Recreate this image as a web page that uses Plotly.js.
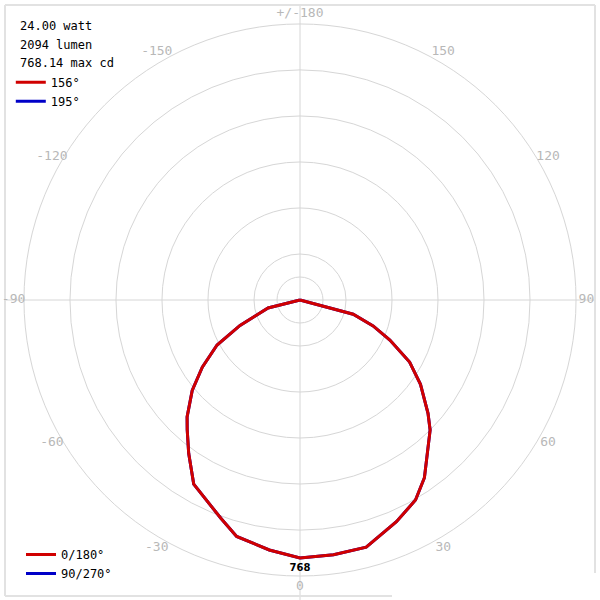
<!DOCTYPE html>
<html>
<head>
<meta charset="utf-8">
<script src="https://cdn.plot.ly/plotly-3.0.1.min.js"></script>
<style>
  html, body { margin: 0; padding: 0; background: #fff; }
  #chart { width: 600px; height: 600px; }
</style>
</head>
<body>
<div id="chart"></div>
<script>
// ── Photometric data (candela) ────────────────────────────────────────────────
const WATT = '24.00';
const LUMEN = '2094';
const MAX_CD = 768.14;

// 0/180° plane: positive angles = 0° half, negative = 180° half
const PLANE_0_THETA = [-180, -90, -80, -76, -67, -61.5, -55.5, -50, -44, -41, -36, -30, -20, -15, -7,
                       0, 7.5, 15, 23.5, 30, 35, 45, 48.5, 55, 60.5, 66, 70.5, 75, 80, 90, 180];
const PLANE_0_CD    = [0, 0, 0, 98, 194, 281, 353, 419, 484, 512, 564, 633, 691, 729, 750,
                       768, 765, 762, 720, 688, 646, 548, 509, 438, 375, 293, 231, 164, 0, 0, 0];

// 90/270° plane sits under the red one in the picture
const PLANE_90_THETA = PLANE_0_THETA;
const PLANE_90_CD    = PLANE_0_CD;

const BEAM_LABELS = ['156°', '195°'];
const PLANE_LABELS = ['0/180°', '90/270°'];

const ANGLE_TICKS  = [0, 30, 60, 90, 120, 150, 180, 210, 240, 270, 300, 330];
const ANGLE_LABELS = ['0', '30', '60', '90', '120', '150', '+/-180', '-150', '-120', '-90', '-60', '-30'];
const RING_VALUES  = [68.5, 137, 274, 411, 548, 685, 822];
const LABEL_R = 853;   // angle labels sit just outside the last ring
const AXIS_MAX = 860;

const RED = '#d00000', BLUE = '#0000c8', GRID = '#d6d6d6';
const MONO = 'DejaVu Sans Mono';

// ── Traces ────────────────────────────────────────────────────────────────────
const traces = [
  // beam angle keys (top-left legend)
  { type: 'scatterpolar', r: [null], theta: [null], mode: 'lines', name: BEAM_LABELS[0],
    line: { color: RED, width: 3 }, legend: 'legend' },
  { type: 'scatterpolar', r: [null], theta: [null], mode: 'lines', name: BEAM_LABELS[1],
    line: { color: BLUE, width: 3 }, legend: 'legend' },
  // planes (bottom-left legend)
  { type: 'scatterpolar', r: PLANE_90_CD, theta: PLANE_90_THETA, mode: 'lines', name: PLANE_LABELS[1],
    line: { color: BLUE, width: 3 }, legend: 'legend2', legendrank: 2 },
  { type: 'scatterpolar', r: PLANE_0_CD, theta: PLANE_0_THETA, mode: 'lines', name: PLANE_LABELS[0],
    line: { color: RED, width: 3 }, legend: 'legend2', legendrank: 1 },
  // max value label
  { type: 'scatterpolar', r: [Math.round(MAX_CD)], theta: [0], mode: 'markers+text',
    marker: { size: 8, color: 'rgba(0,0,0,0)' },
    text: [String(Math.round(MAX_CD))], textposition: 'bottom center',
    textfont: { family: 'DejaVu Sans', size: 10, color: '#000', weight: 'bold' },
    showlegend: false, hoverinfo: 'skip' },
  // angle labels sitting on the outer ring
  { type: 'scatterpolar', r: ANGLE_TICKS.map(() => LABEL_R), theta: ANGLE_TICKS,
    mode: 'text', text: ANGLE_LABELS, textposition: 'middle center', cliponaxis: false,
    textfont: { family: MONO, size: 13, color: '#b8b8b8' },
    showlegend: false, hoverinfo: 'skip' },
];

const layout = {
  width: 600, height: 600,
  margin: { t: 0, r: 0, b: 0, l: 0 },
  paper_bgcolor: '#fff',
  font: { family: MONO, size: 12, color: '#000' },
  polar: {
    // last ring (822) lands at 276 px from the centre
    domain: { x: [0.0187, 0.9813], y: [0.0187, 0.9813] },
    bgcolor: 'rgba(0,0,0,0)',
    angularaxis: {
      rotation: -90, direction: 'counterclockwise',
      showticklabels: false, ticks: '', showgrid: false, showline: false,
    },
    radialaxis: {
      range: [0, AXIS_MAX],
      tickmode: 'array', tickvals: RING_VALUES,
      showticklabels: false, ticks: '', showline: false,
      gridcolor: GRID, gridwidth: 1,
    },
  },
  legend: {
    x: 0.018, y: 0.887, xanchor: 'left', yanchor: 'top',
    bgcolor: 'rgba(0,0,0,0)', itemwidth: 30, tracegroupgap: 0,
    font: { family: MONO, size: 12, color: '#000' },
  },
  legend2: {
    x: 0.035, y: 0.1, xanchor: 'left', yanchor: 'top',
    bgcolor: 'rgba(0,0,0,0)', itemwidth: 30,
    font: { family: MONO, size: 12, color: '#000' },
  },
  annotations: [
    `${WATT} watt`, `${LUMEN} lumen`, `${MAX_CD.toFixed(2)} max cd`
  ].map((t, i) => ({
    text: t, xref: 'paper', yref: 'paper', x: 0.03, y: 1 - (26 + i * 18.5) / 600,
    xanchor: 'left', yanchor: 'middle', showarrow: false,
    font: { family: MONO, size: 12, color: '#000' },
  })),
  shapes: [
    // cross through the centre
    { type: 'line', xref: 'paper', yref: 'paper', x0: 0.5, x1: 0.5, y0: 0, y1: 595 / 600,
      line: { color: GRID, width: 1 }, layer: 'below' },
    { type: 'line', xref: 'paper', yref: 'paper', x0: 5 / 600, x1: 595 / 600, y0: 0.5, y1: 0.5,
      line: { color: GRID, width: 1 }, layer: 'below' },
    // frame
    { type: 'line', xref: 'paper', yref: 'paper', x0: 5 / 600, x1: 595 / 600, y0: 595 / 600, y1: 595 / 600,
      line: { color: '#e2e2e2', width: 2 }, layer: 'below' },
    { type: 'line', xref: 'paper', yref: 'paper', x0: 5 / 600, x1: 5 / 600, y0: 4 / 600, y1: 595 / 600,
      line: { color: '#e2e2e2', width: 2 }, layer: 'below' },
    { type: 'line', xref: 'paper', yref: 'paper', x0: 595 / 600, x1: 595 / 600, y0: 27 / 600, y1: 595 / 600,
      line: { color: '#e2e2e2', width: 2 }, layer: 'below' },
    { type: 'line', xref: 'paper', yref: 'paper', x0: 5 / 600, x1: 392 / 600, y0: 4 / 600, y1: 4 / 600,
      line: { color: '#e2e2e2', width: 2 }, layer: 'below' },
  ],
};

Plotly.newPlot('chart', traces, layout, { displayModeBar: false, staticPlot: true });
</script>
</body>
</html>
